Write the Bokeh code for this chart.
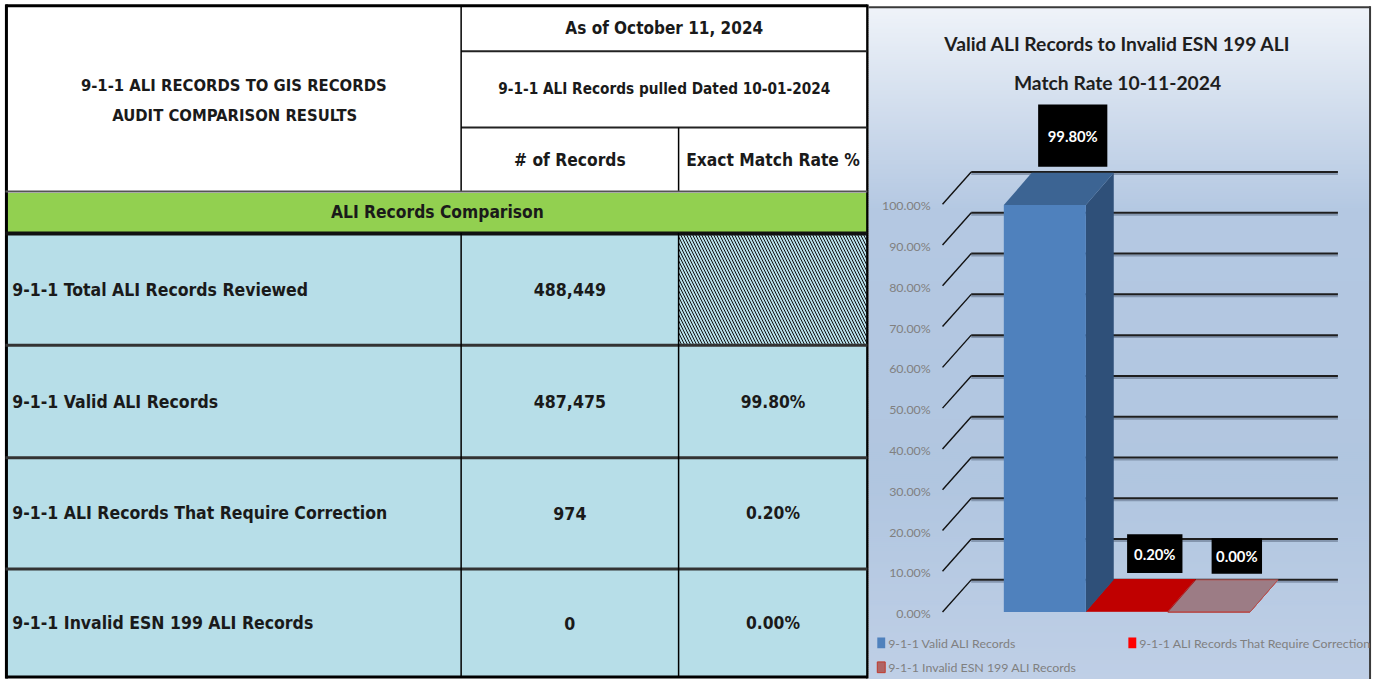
from bokeh.plotting import figure
from bokeh.models import Range1d
from bokeh.core.properties import value
from bokeh.embed import file_html
from bokeh.resources import INLINE

# ---------------- DATA ----------------
table_title_lines = ["9-1-1 ALI RECORDS TO GIS RECORDS", "AUDIT COMPARISON RESULTS"]
as_of_text = "As of October 11, 2024"
pulled_text = "9-1-1 ALI Records pulled Dated 10-01-2024"
column_headers = ["# of Records", "Exact Match Rate %"]
section_text = "ALI Records Comparison"
row_labels = [
    "9-1-1 Total ALI Records Reviewed",
    "9-1-1 Valid ALI Records",
    "9-1-1 ALI Records That Require Correction",
    "9-1-1 Invalid ESN 199 ALI Records",
]
record_counts = [488449, 487475, 974, 0]
match_rates = [None, 99.80, 0.20, 0.00]

chart_title_lines = ["Valid ALI Records to Invalid ESN 199 ALI", "Match Rate 10-11-2024"]
series_names = [
    "9-1-1 Valid ALI Records",
    "9-1-1 ALI Records That Require Correction",
    "9-1-1 Invalid ESN 199 ALI Records",
]
series_values = [99.80, 0.20, 0.00]
y_ticks = [0, 10, 20, 30, 40, 50, 60, 70, 80, 90, 100]

# ---------------- STYLE / LAYOUT ----------------
TFONT = "'Liberation Sans Narrow', 'DejaVu Sans Condensed', sans-serif"
CFONT = "Lato, 'Open Sans', sans-serif"
TXT = "#1a1a1a"
CELL_BLUE = "#b7dee8"
GREEN = "#92d050"

REF_W, REF_H = 1390, 695
W, H = 1374, 679
SCALE = W / REF_W

def fpx(s):
    return f"{s * SCALE:.2f}px"

COLS = [5, 466, 686, 877]
HEAD_Y = [5, 52, 130, 196]
GREEN_Y = (197, 238)
ROW_EDGES = [239, 353, 468, 582, 693]

# chart pixel anchors (reference pixels)
CX0, BAR_PX = 1015.0, 83.0      # left edge of first bar, bar width in px
CY0, PCT_PX = 626.0, 4.175      # pixel of 0 %, pixels per percent
DX, DY = 0.34, 7.9              # 3D depth (bar units, percent units)
GRID_FRONT_X = (953 - CX0) / BAR_PX
GRID_BACK_X = (982 - CX0) / BAR_PX
GRID_RIGHT_X = (1353 - CX0) / BAR_PX
TICK_LABEL_X = (941 - CX0) / BAR_PX
FRONT = ["#4f81bd", "#c00000", "#9c7c85"]
SIDE = ["#2f5079", "#8c0000", "#806870"]
TOP = ["#3c6493", "#c00000", "#9c7c85"]
EDGE = [None, None, "#b5504f"]
LABEL_BOX = [(70, 63), (56, 39), (51, 36)]
LEGEND_SWATCH = ["#4f81bd", "#ff0000", "#b06464"]
LEGEND_POS = [(887, 658), (1141, 658), (887, 683)]

p = figure(width=W, height=H, x_range=Range1d(0, REF_W), y_range=Range1d(REF_H, 0),
           output_backend="svg", toolbar_location=None,
           x_axis_location=None, y_axis_location=None, min_border=0,
           outline_line_color=None, background_fill_color="white",
           border_fill_color="white")
p.grid.grid_line_color = None

p.extra_x_ranges = {"cx": Range1d((0 - CX0) / BAR_PX, (REF_W - CX0) / BAR_PX)}
p.extra_y_ranges = {"cy": Range1d((CY0 - REF_H) / PCT_PX, (CY0 - 0) / PCT_PX)}

# ================= TABLE =================
p.quad(left=[COLS[0]], right=[COLS[3]], top=[GREEN_Y[0]], bottom=[GREEN_Y[1]],
       fill_color=GREEN, line_color=None)

for i, rate in enumerate(match_rates):
    t, b = ROW_EDGES[i], ROW_EDGES[i + 1]
    p.quad(left=[COLS[0], COLS[1]], right=[COLS[1], COLS[2]], top=[t, t], bottom=[b, b],
           fill_color=CELL_BLUE, line_color=None)
    if rate is None:
        p.quad(left=[COLS[2]], right=[COLS[3]], top=[t], bottom=[b],
               fill_color=CELL_BLUE, line_color=None, hatch_pattern="\\",
               hatch_color="#111111", hatch_scale=6, hatch_weight=1)
    else:
        p.quad(left=[COLS[2]], right=[COLS[3]], top=[t], bottom=[b],
               fill_color=CELL_BLUE, line_color=None)

def seg(x0, y0, x1, y1, w, c="#000000"):
    p.segment(x0=[x0], y0=[y0], x1=[x1], y1=[y1], line_width=w, line_color=c)

seg(COLS[0], 5.5, COLS[3], 5.5, 3)
seg(6, 4, 6, 694, 3)
seg(COLS[0], 692.5, COLS[3], 692.5, 3)
seg(COLS[3], 4, COLS[3], 694, 2.5)
seg(COLS[1], HEAD_Y[1], COLS[3], HEAD_Y[1], 2, "#222222")
seg(COLS[1], HEAD_Y[2], COLS[3], HEAD_Y[2], 2, "#222222")
seg(COLS[1], HEAD_Y[0], COLS[1], HEAD_Y[3], 1.5)
seg(COLS[2], HEAD_Y[2], COLS[2], HEAD_Y[3], 1.5)
seg(COLS[0], 195.5, COLS[3], 195.5, 2, "#555555")
seg(COLS[0], 238.5, COLS[3], 238.5, 4, "#111111")
for yy in ROW_EDGES[1:-1]:
    seg(COLS[0], yy, COLS[3], yy, 3, "#333333")
seg(COLS[1], GREEN_Y[1], COLS[1], 692, 1.5)
seg(COLS[2], GREEN_Y[1], COLS[2], 692, 1.5)

def ttext(xs, ys, texts, size, align="center", color=TXT, font=TFONT, style="bold", xr="default", yr="default"):
    p.text(x=xs, y=ys, text=texts, text_font=value(font), text_font_size=value(fpx(size)),
           text_font_style=style, text_align=align, text_baseline="middle",
           text_color=color, x_range_name=xr, y_range_name=yr)

ttext([236, 237], [87, 118], table_title_lines, 16.7)
ttext([671.5], [28], [as_of_text], 17.2)
ttext([671.5], [91], [pulled_text], 15.4)
ttext([576, 781.5], [163, 163], column_headers, 17.5)
ttext([442], [216], [section_text], 17.5)

row_mid = [(ROW_EDGES[i] + ROW_EDGES[i + 1]) / 2 for i in range(len(row_labels))]
ttext([12] * len(row_labels), row_mid, row_labels, 17.7, align="left")
ttext([576] * len(record_counts), row_mid, [f"{n:,}" for n in record_counts], 17.8)
rate_rows = [m for m, r in zip(row_mid, match_rates) if r is not None]
rate_txt = [f"{r:.2f}%" for r in match_rates if r is not None]
ttext([781.5] * len(rate_rows), rate_rows, rate_txt, 17.5)

# ================= CHART =================
stops = [(7, (239, 243, 249)), (60, (224, 232, 243)), (150, (198, 213, 233)),
         (215, (180, 200, 226)), (500, (177, 198, 224)), (695, (191, 207, 230))]
def grad(y):
    for (ya, ca), (yb, cb) in zip(stops[:-1], stops[1:]):
        if ya <= y <= yb:
            t = (y - ya) / (yb - ya)
            return "#%02x%02x%02x" % tuple(int(round(a + (b - a) * t)) for a, b in zip(ca, cb))
    return "#%02x%02x%02x" % stops[-1][1]
gy = list(range(7, 695, 2))
p.quad(left=[878.5] * len(gy), right=[1385] * len(gy), top=gy, bottom=[y + 3.2 for y in gy],
       fill_color=[grad(y + 1) for y in gy], line_color=None)
seg(878, 7, 1386, 7, 2, "#3a3a3a")
seg(1385.5, 6, 1385.5, 695, 2, "#3a3a3a")

CH = dict(x_range_name="cx", y_range_name="cy")
shadow = 2.0 / PCT_PX
p.segment(x0=[GRID_BACK_X] * len(y_ticks), y0=[t + DY - shadow for t in y_ticks],
          x1=[GRID_RIGHT_X] * len(y_ticks), y1=[t + DY - shadow for t in y_ticks],
          line_color="#6f8098", line_width=2, line_alpha=0.7, **CH)
p.segment(x0=[GRID_BACK_X] * len(y_ticks), y0=[t + DY for t in y_ticks],
          x1=[GRID_RIGHT_X] * len(y_ticks), y1=[t + DY for t in y_ticks],
          line_color="#1e1e1e", line_width=2, **CH)
p.segment(x0=[GRID_FRONT_X] * len(y_ticks), y0=y_ticks,
          x1=[GRID_BACK_X] * len(y_ticks), y1=[t + DY for t in y_ticks],
          line_color="#111111", line_width=1.4, **CH)
ttext([TICK_LABEL_X] * len(y_ticks), [t - 0.4 for t in y_ticks],
      [f"{t:.2f}%" for t in y_ticks], 12.5, align="right", color="#808080",
      font=CFONT, style="normal", xr="cx", yr="cy")

for i in reversed(range(len(series_values))):
    v = series_values[i]
    lc = EDGE[i]
    p.patches(xs=[[i + 1, i + 1, i + 1 + DX, i + 1 + DX]], ys=[[0, v, v + DY, DY]],
              fill_color=SIDE[i], line_color=lc, **CH)
    p.patches(xs=[[i, i + 1, i + 1 + DX, i + DX]], ys=[[v, v, v + DY, v + DY]],
              fill_color=TOP[i], line_color=lc, **CH)
    p.quad(left=[i], right=[i + 1], bottom=[0], top=[v], fill_color=FRONT[i],
           line_color=lc, **CH)

for i, v in enumerate(series_values):
    bw, bh = LABEL_BOX[i]
    cy = v + DY + (6.5 + bh / 2) / PCT_PX
    cx = i + 0.5 + DX
    p.rect(x=[cx], y=[cy], width=[bw * SCALE], height=[bh * SCALE], width_units="screen",
           height_units="screen", fill_color="#000000", line_color=None, **CH)
    ttext([cx], [cy], [f"{v:.2f}%"], 15, color="#ffffff", font=CFONT,
          style="bold", xr="cx", yr="cy")

ttext([1130, 1130], [44, 84], chart_title_lines, 19.5, color="#1e1e1e",
      font=CFONT, style="bold")

for (lx, ly), col, name in zip(LEGEND_POS, LEGEND_SWATCH, series_names):
    p.quad(left=[lx], right=[lx + 8], top=[ly - 6], bottom=[ly + 5], fill_color=col,
           line_color="#c0392b" if col == LEGEND_SWATCH[2] else None)
    ttext([lx + 11], [ly], [name], 12.5, align="left", color="#808080",
          font=CFONT, style="normal")

open("out.html", "w").write(file_html(p, INLINE))
